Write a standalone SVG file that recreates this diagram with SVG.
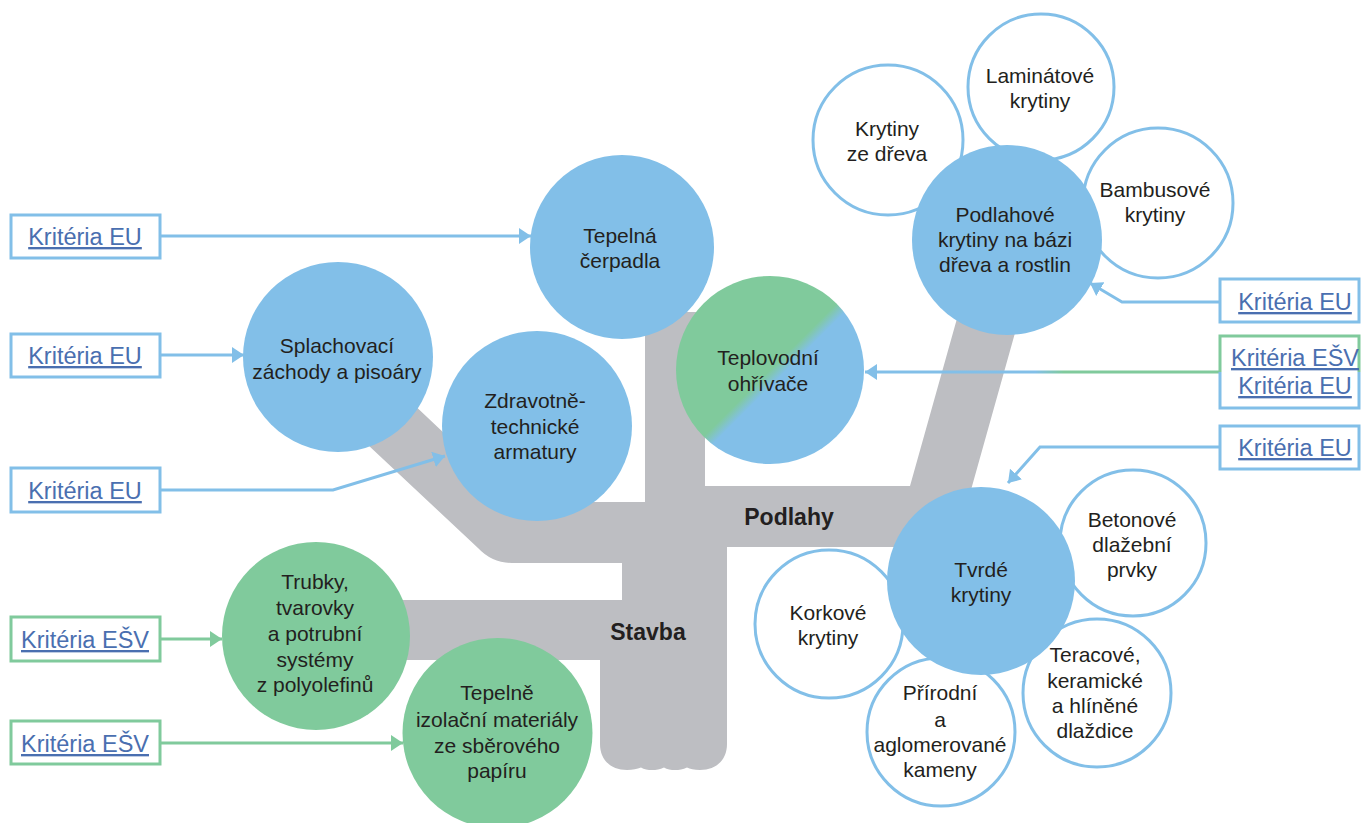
<svg xmlns="http://www.w3.org/2000/svg" width="1362" height="823" viewBox="0 0 1362 823">
<defs>
<style>
.tree{fill:#bdbec2}
.cb{fill:#82bfe8}
.cg{fill:#80ca9c}
.co{fill:#fff;stroke:#82bfe8;stroke-width:3}
.t{font-family:"Liberation Sans",Arial,sans-serif;font-size:21px;fill:#231f20;text-anchor:middle}
.bl{font-family:"Liberation Sans",Arial,sans-serif;font-size:23px;font-weight:bold;fill:#231f20;text-anchor:middle}
.k{font-family:"Liberation Sans",Arial,sans-serif;font-size:23.5px;fill:#4a6fb0;text-anchor:middle;text-decoration:underline}
.bxb{fill:#fff;stroke:#82bfe8;stroke-width:3}
.bxg{fill:#fff;stroke:#80ca9c;stroke-width:3}
.lb{fill:none;stroke:#82bfe8;stroke-width:3}
.lg{fill:none;stroke:#80ca9c;stroke-width:3}
</style>
<linearGradient id="gb" x1="0" y1="0" x2="1" y2="1">
<stop offset="0.5" stop-color="#80ca9c"/>
<stop offset="0.545" stop-color="#82bfe8"/>
</linearGradient>
<linearGradient id="lgrad" gradientUnits="userSpaceOnUse" x1="865" y1="0" x2="1220" y2="0">
<stop offset="0.48" stop-color="#82bfe8"/>
<stop offset="0.56" stop-color="#80ca9c"/>
</linearGradient>
<marker id="ab" viewBox="0 0 12 16" refX="12" refY="8" markerWidth="12" markerHeight="16" markerUnits="userSpaceOnUse" orient="auto">
<path d="M0,0 L12,8 L0,16 Z" fill="#82bfe8"/>
</marker>
<marker id="ag" viewBox="0 0 12 16" refX="12" refY="8" markerWidth="12" markerHeight="16" markerUnits="userSpaceOnUse" orient="auto">
<path d="M0,0 L12,8 L0,16 Z" fill="#80ca9c"/>
</marker>
</defs>
<rect width="1362" height="823" fill="#fff"/>

<g id="tree">
<rect class="tree" x="645" y="312" width="60" height="195"/>
<path class="tree" d="M320,400 L409,400 L517,502 L650,502 L650,563 L512,563 Q492,563 478,548 Z"/>
<rect class="tree" x="400" y="600" width="225" height="60"/>
<rect class="tree" x="622" y="540" width="105" height="66"/>
<path class="tree" d="M645,486 L910,486 L965,290 L1027,290 L955,547 L645,547 Z"/>
<path class="tree" d="M600,600 H727 V744 C727,760 716,770 700,770 C694,770 690,769 687,767.5 C683,769.5 679,770 675,770 C671,770 667,769.5 664,767.5 C660,769.5 656,770 652,770 C648,770 644,769.5 641,767.5 C637,769 633,770 627,770 C611,770 600,760 600,744 Z"/>
</g>

<g id="label-podlahy"><text class="bl" x="789" y="525">Podlahy</text></g>
<g id="label-stavba"><text class="bl" x="648" y="640">Stavba</text></g>

<g id="n-tepelna-cerpadla">
<circle class="cb" cx="622" cy="247" r="92"/>
<text class="t" x="620" y="243">Tepelná</text>
<text class="t" x="620" y="268">čerpadla</text>
</g>
<g id="n-splachovaci">
<circle class="cb" cx="338" cy="357" r="95"/>
<text class="t" x="337" y="353">Splachovací</text>
<text class="t" x="337" y="379">záchody a pisoáry</text>
</g>
<g id="n-zdravotne">
<circle class="cb" cx="537" cy="426" r="95"/>
<text class="t" x="535" y="408">Zdravotně-</text>
<text class="t" x="535" y="434">technické</text>
<text class="t" x="535" y="459">armatury</text>
</g>
<g id="n-teplovodni">
<circle cx="770" cy="370" r="94" fill="url(#gb)"/>
<text class="t" x="768" y="365">Teplovodní</text>
<text class="t" x="768" y="391">ohřívače</text>
</g>
<g id="n-trubky">
<circle class="cg" cx="316" cy="636" r="94"/>
<text class="t" x="315" y="589">Trubky,</text>
<text class="t" x="315" y="615">tvarovky</text>
<text class="t" x="315" y="641">a potrubní</text>
<text class="t" x="315" y="667">systémy</text>
<text class="t" x="315" y="692">z polyolefinů</text>
</g>
<g id="n-tepelne-izolacni">
<circle class="cg" cx="497.5" cy="733" r="95"/>
<text class="t" x="497" y="700">Tepelně</text>
<text class="t" x="497" y="727">izolační materiály</text>
<text class="t" x="497" y="753">ze sběrového</text>
<text class="t" x="497" y="778">papíru</text>
</g>

<g id="n-krytiny-dreva">
<circle class="co" cx="888" cy="140" r="75"/>
<text class="t" x="887" y="136">Krytiny</text>
<text class="t" x="887" y="161">ze dřeva</text>
</g>
<g id="n-laminatove">
<circle class="co" cx="1041" cy="87" r="73"/>
<text class="t" x="1040" y="83">Laminátové</text>
<text class="t" x="1040" y="108">krytiny</text>
</g>
<g id="n-bambusove">
<circle class="co" cx="1158" cy="203" r="75"/>
<text class="t" x="1155" y="197">Bambusové</text>
<text class="t" x="1155" y="222">krytiny</text>
</g>
<g id="n-podlahove">
<circle class="cb" cx="1007" cy="240" r="95"/>
<text class="t" x="1005" y="222">Podlahové</text>
<text class="t" x="1005" y="247">krytiny na bázi</text>
<text class="t" x="1005" y="272">dřeva a rostlin</text>
</g>

<g id="n-korkove">
<circle class="co" cx="829" cy="624" r="74"/>
<text class="t" x="828" y="620">Korkové</text>
<text class="t" x="828" y="645">krytiny</text>
</g>
<g id="n-prirodni">
<circle class="co" cx="941" cy="732" r="74"/>
<text class="t" x="940" y="700">Přírodní</text>
<text class="t" x="940" y="727">a</text>
<text class="t" x="940" y="752">aglomerované</text>
<text class="t" x="940" y="777">kameny</text>
</g>
<g id="n-teracove">
<circle class="co" cx="1097" cy="693" r="74"/>
<text class="t" x="1095" y="662">Teracové,</text>
<text class="t" x="1095" y="688">keramické</text>
<text class="t" x="1095" y="713">a hlíněné</text>
<text class="t" x="1095" y="738">dlaždice</text>
</g>
<g id="n-betonove">
<circle class="co" cx="1133" cy="543" r="73"/>
<text class="t" x="1132" y="527">Betonové</text>
<text class="t" x="1132" y="552">dlažební</text>
<text class="t" x="1132" y="577">prvky</text>
</g>
<g id="n-tvrde">
<circle class="cb" cx="981" cy="581" r="94"/>
<text class="t" x="981" y="577">Tvrdé</text>
<text class="t" x="981" y="602">krytiny</text>
</g>

<g id="connectors">
<path class="lb" d="M160,236 H531" marker-end="url(#ab)"/>
<path class="lb" d="M160,355 H244" marker-end="url(#ab)"/>
<path class="lb" d="M160,490 H333 L445,456" marker-end="url(#ab)"/>
<path class="lg" d="M160,639 H222" marker-end="url(#ag)"/>
<path class="lg" d="M160,743 H403" marker-end="url(#ag)"/>
<path class="lb" d="M1220,302 H1122 L1090,283" marker-end="url(#ab)"/>
<path d="M1220,372 H865" fill="none" stroke="url(#lgrad)" stroke-width="3" marker-end="url(#ab)"/>
<path class="lb" d="M1220,447 H1040 L1008,483" marker-end="url(#ab)"/>
</g>

<g id="box-eu-1">
<rect class="bxb" x="11" y="215" width="149" height="43"/>
<text class="k" x="85" y="245">Kritéria EU</text>
</g>
<g id="box-eu-2">
<rect class="bxb" x="11" y="334" width="149" height="43"/>
<text class="k" x="85" y="364">Kritéria EU</text>
</g>
<g id="box-eu-3">
<rect class="bxb" x="11" y="468" width="149" height="44"/>
<text class="k" x="85" y="499">Kritéria EU</text>
</g>
<g id="box-esv-1">
<rect class="bxg" x="11" y="617" width="149" height="44"/>
<text class="k" x="85" y="648">Kritéria EŠV</text>
</g>
<g id="box-esv-2">
<rect class="bxg" x="11" y="721" width="149" height="43"/>
<text class="k" x="85" y="752">Kritéria EŠV</text>
</g>
<g id="box-eu-4">
<rect class="bxb" x="1220" y="279" width="139" height="43"/>
<text class="k" x="1295" y="310">Kritéria EU</text>
</g>
<g id="box-esv-eu">
<rect x="1220" y="336" width="139" height="72" fill="#fff"/>
<path class="lg" d="M1359,372 V336 H1220 V372"/>
<path class="lb" d="M1220,372 V408 H1359 V372"/>
<text class="k" x="1295" y="366">Kritéria EŠV</text>
<text class="k" x="1295" y="394">Kritéria EU</text>
</g>
<g id="box-eu-5">
<rect class="bxb" x="1220" y="426" width="139" height="43"/>
<text class="k" x="1295" y="456">Kritéria EU</text>
</g>
</svg>
